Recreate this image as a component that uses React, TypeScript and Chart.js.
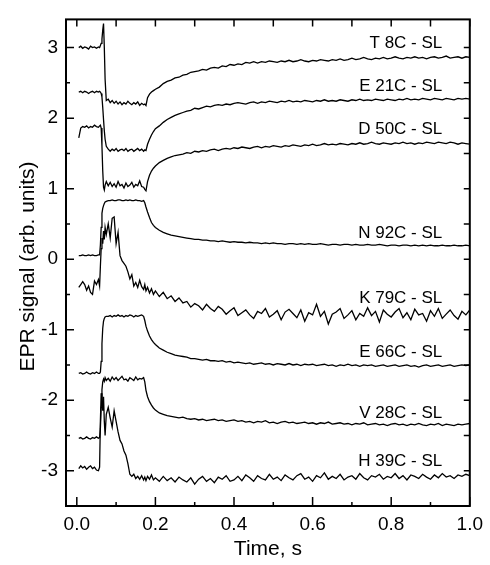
import React, { useEffect, useRef } from "react";
import { Chart, registerables } from "chart.js";
Chart.register(...registerables);

const FONT = "'Liberation Sans', Arial, Helvetica, sans-serif";

const TIME = [
  0.005, 0.01, 0.015, 0.02, 0.025, 0.03, 0.035, 0.04, 0.045, 0.05, 0.055,
  0.058, 0.06, 0.062, 0.064, 0.066, 0.068, 0.07, 0.072, 0.075,
  0.08, 0.085, 0.09, 0.095, 0.1, 0.105, 0.11, 0.115, 0.12, 0.125, 0.13, 0.135, 0.14, 0.145, 0.15, 0.155, 0.16, 0.165, 0.17,
  0.173, 0.176, 0.18, 0.185, 0.19, 0.195, 0.2, 0.21, 0.22, 0.23, 0.24, 0.25,
  0.26, 0.27, 0.28, 0.29, 0.3, 0.31, 0.32, 0.33, 0.34, 0.35,
  0.36, 0.37, 0.38, 0.39, 0.4, 0.41, 0.42, 0.43, 0.44, 0.45,
  0.46, 0.47, 0.48, 0.49, 0.5, 0.51, 0.52, 0.53, 0.54, 0.55,
  0.56, 0.57, 0.58, 0.59, 0.6, 0.61, 0.62, 0.63, 0.64, 0.65,
  0.66, 0.67, 0.68, 0.69, 0.7, 0.71, 0.72, 0.73, 0.74, 0.75,
  0.76, 0.77, 0.78, 0.79, 0.8, 0.81, 0.82, 0.83, 0.84, 0.85,
  0.86, 0.87, 0.88, 0.89, 0.9, 0.91, 0.92, 0.93, 0.94, 0.95,
  0.96, 0.97, 0.98, 0.99, 1.0,
];

const T8C = [
  3.0, 3.02, 2.99, 3.01, 3.0, 2.98, 3.02, 3.0, 3.01, 2.99, 3.01,
  3.0, 3.03, 3.06, 3.12, 3.25, 3.34, 3.0, 2.55, 2.25,
  2.27, 2.22, 2.25, 2.21, 2.24, 2.2, 2.23, 2.19, 2.22, 2.2, 2.24, 2.21, 2.19, 2.22, 2.2, 2.23, 2.18, 2.21, 2.19,
  2.2, 2.18, 2.29, 2.34, 2.37, 2.39, 2.41, 2.44, 2.49, 2.52, 2.54, 2.57,
  2.58, 2.61, 2.62, 2.65, 2.66, 2.67, 2.69, 2.68, 2.71, 2.72,
  2.71, 2.74, 2.73, 2.76, 2.75, 2.77, 2.76, 2.79, 2.78, 2.8,
  2.78, 2.8, 2.79, 2.81, 2.8, 2.79, 2.81, 2.8, 2.82, 2.8,
  2.81, 2.83, 2.81, 2.8, 2.82, 2.81, 2.83, 2.82, 2.81, 2.83,
  2.82, 2.84, 2.82, 2.83, 2.85, 2.83, 2.84, 2.86, 2.84, 2.83,
  2.85, 2.84, 2.86, 2.84, 2.85, 2.87, 2.85, 2.84, 2.86, 2.85,
  2.87, 2.85, 2.86, 2.84, 2.86, 2.87, 2.85, 2.86, 2.88, 2.85,
  2.86, 2.87, 2.85, 2.87, 2.86,
];

const E21C = [
  2.37, 2.38, 2.36, 2.38, 2.37, 2.35, 2.37, 2.38, 2.36, 2.38, 2.37,
  2.38, 2.37, 2.35, 2.3, 2.15, 1.98, 1.82, 1.7, 1.6,
  1.56, 1.53, 1.56, 1.54, 1.57, 1.53, 1.55, 1.56, 1.54, 1.57, 1.53, 1.55, 1.56, 1.53, 1.55, 1.57, 1.54, 1.56, 1.53,
  1.55, 1.54, 1.63, 1.7, 1.76, 1.81, 1.85, 1.89, 1.94, 1.98, 2.01, 2.04,
  2.06, 2.08, 2.1, 2.11, 2.14, 2.13, 2.15, 2.17, 2.16, 2.18,
  2.19, 2.18, 2.2, 2.19, 2.21, 2.22, 2.21, 2.2, 2.22, 2.23,
  2.21, 2.23, 2.22, 2.24, 2.23, 2.22, 2.24, 2.23, 2.25, 2.23,
  2.24, 2.23, 2.25, 2.24, 2.23, 2.25, 2.24, 2.26, 2.24, 2.25,
  2.24, 2.26, 2.25, 2.24, 2.26, 2.25, 2.27, 2.25, 2.26, 2.25,
  2.27, 2.26, 2.25, 2.27, 2.26, 2.25, 2.27, 2.26, 2.28, 2.26,
  2.27, 2.26, 2.28, 2.27, 2.26, 2.28, 2.27, 2.26, 2.28, 2.27,
  2.26, 2.28, 2.27, 2.28, 2.27,
];

const D50C = [
  1.72, 1.86, 1.88, 1.87, 1.89, 1.86, 1.88, 1.87, 1.9, 1.88, 1.87,
  1.89, 1.9, 1.86, 1.6, 1.25, 1.02, 0.98, 1.05, 1.1,
  1.04, 1.09, 1.03, 1.07, 1.02, 1.1, 1.04, 1.06, 1.01, 1.08, 1.03, 1.05, 1.09, 1.02, 1.06, 1.04, 1.11, 1.03, 1.02,
  0.99, 0.97, 1.1, 1.19, 1.25, 1.29, 1.32, 1.37, 1.4, 1.43, 1.45, 1.47,
  1.48, 1.49, 1.51, 1.5, 1.53, 1.52, 1.54, 1.53, 1.55, 1.56,
  1.54, 1.56, 1.57, 1.56, 1.58, 1.57, 1.59, 1.58, 1.57, 1.59,
  1.6, 1.58, 1.6, 1.59, 1.61, 1.6, 1.59, 1.61, 1.6, 1.62,
  1.61, 1.6, 1.62, 1.61, 1.63, 1.61, 1.62, 1.64, 1.62, 1.63,
  1.62, 1.64, 1.63, 1.62, 1.64, 1.63, 1.65, 1.63, 1.64, 1.66,
  1.64, 1.63, 1.65, 1.64, 1.63, 1.65, 1.64, 1.66, 1.64, 1.65,
  1.63, 1.65, 1.64, 1.66, 1.65, 1.64, 1.66, 1.65, 1.64, 1.66,
  1.65, 1.63, 1.65, 1.64, 1.63,
];

const N92C = [
  0.05, 0.05, 0.06, 0.05, 0.05, 0.06, 0.05, 0.06, 0.05, 0.05, 0.06,
  0.06, 0.2, 0.45, 0.65, 0.72, 0.76, 0.79, 0.81, 0.82,
  0.83, 0.83, 0.84, 0.83, 0.83, 0.84, 0.84, 0.83, 0.83, 0.84, 0.83, 0.84, 0.83, 0.83, 0.84, 0.83, 0.83, 0.82, 0.83,
  0.8, 0.74, 0.67, 0.59, 0.52, 0.48, 0.45, 0.41, 0.38, 0.36, 0.34, 0.33,
  0.32, 0.31, 0.3, 0.29, 0.28, 0.28, 0.27, 0.27, 0.26, 0.26,
  0.25, 0.26, 0.25, 0.24, 0.25, 0.24, 0.24, 0.23, 0.24, 0.23,
  0.23, 0.22, 0.23, 0.22, 0.23, 0.22, 0.22, 0.21, 0.22, 0.22,
  0.21, 0.22, 0.21, 0.22, 0.21, 0.21, 0.22, 0.21, 0.2, 0.21,
  0.21, 0.2, 0.21, 0.21, 0.2, 0.21, 0.2, 0.2, 0.21, 0.2,
  0.2, 0.21, 0.2, 0.19, 0.2, 0.2, 0.19, 0.2, 0.2, 0.19,
  0.2, 0.19, 0.2, 0.19, 0.2, 0.19, 0.19, 0.2, 0.19, 0.19,
  0.2, 0.19, 0.19, 0.2, 0.19,
];

const K79C = [
  -0.4, -0.36, -0.32, -0.36, -0.44, -0.38, -0.47, -0.5, -0.31, -0.36, -0.29,
  -0.38, -0.1, 0.15, 0.3, 0.22, 0.4, 0.28, 0.45, 0.35,
  0.5, 0.3, 0.58, 0.6, 0.22, 0.38, 0.05, -0.02, -0.06, -0.1, -0.18, -0.28, -0.22, -0.38, -0.33, -0.4, -0.3, -0.39, -0.43,
  -0.36, -0.45, -0.4, -0.48, -0.42, -0.5, -0.45, -0.53, -0.47, -0.56, -0.52, -0.6,
  -0.55, -0.62, -0.6, -0.68, -0.63, -0.66, -0.72, -0.64, -0.7, -0.74,
  -0.67, -0.71, -0.78, -0.73, -0.69, -0.8, -0.76, -0.72, -0.79, -0.84,
  -0.74, -0.77, -0.7, -0.82, -0.78, -0.73, -0.86, -0.75, -0.71, -0.77,
  -0.83, -0.72, -0.88, -0.76, -0.79, -0.64, -0.81, -0.74, -0.92, -0.78,
  -0.75, -0.7, -0.84, -0.79, -0.73, -0.86, -0.77, -0.81, -0.69, -0.8,
  -0.74, -0.89, -0.72, -0.78, -0.82, -0.75, -0.7, -0.83, -0.76, -0.86,
  -0.71, -0.79, -0.77, -0.88, -0.73, -0.81, -0.7, -0.84, -0.78, -0.72,
  -0.8, -0.85, -0.74, -0.79, -0.72,
];

const E66C = [
  -1.62, -1.61, -1.63, -1.62, -1.6, -1.62, -1.63, -1.61, -1.62, -1.6, -1.62,
  -1.62, -1.6, -1.45, -1.2, -0.98, -0.88, -0.84, -0.82, -0.81,
  -0.81, -0.8, -0.82, -0.8, -0.81, -0.79, -0.81, -0.8, -0.82, -0.8, -0.81, -0.79, -0.8, -0.82, -0.8, -0.81, -0.8, -0.79, -0.81,
  -0.87, -0.95, -1.02, -1.09, -1.14, -1.18, -1.21, -1.26, -1.29, -1.32, -1.34, -1.36,
  -1.37, -1.38, -1.39, -1.41, -1.41, -1.42, -1.43, -1.42, -1.44, -1.44,
  -1.45, -1.44, -1.46, -1.45, -1.47, -1.46, -1.47, -1.48, -1.47, -1.49,
  -1.48, -1.47, -1.49, -1.48, -1.5, -1.48, -1.49, -1.5, -1.48, -1.5,
  -1.49, -1.51, -1.49, -1.5, -1.49, -1.51, -1.5, -1.49, -1.51, -1.5,
  -1.52, -1.5, -1.51, -1.49, -1.51, -1.5, -1.52, -1.5, -1.51, -1.5,
  -1.52, -1.51, -1.5, -1.52, -1.51, -1.5, -1.52, -1.51, -1.5, -1.52,
  -1.51, -1.53, -1.51, -1.5, -1.52, -1.51, -1.5, -1.52, -1.51, -1.5,
  -1.52, -1.51, -1.5, -1.51, -1.5,
];

const V28C = [
  -2.54, -2.53, -2.55, -2.54, -2.52, -2.54, -2.55, -2.53, -2.54, -2.52, -2.54,
  -2.53, -2.4, -2.1, -1.85, -1.74, -1.7, -1.73, -1.68, -1.72,
  -1.69, -1.73, -1.67, -1.71, -1.68, -1.72, -1.69, -1.66, -1.71, -1.7, -1.73, -1.68, -1.7, -1.72, -1.67, -1.71, -1.69, -1.7, -1.68,
  -1.74, -1.86, -1.95, -2.02, -2.07, -2.11, -2.14, -2.18, -2.2, -2.22, -2.23, -2.24,
  -2.25, -2.24, -2.26, -2.27, -2.26, -2.28, -2.27, -2.29, -2.28, -2.27,
  -2.29, -2.28, -2.3, -2.29, -2.28, -2.3, -2.29, -2.31, -2.3, -2.32,
  -2.3, -2.31, -2.29, -2.32, -2.31, -2.33, -2.31, -2.3, -2.32, -2.31,
  -2.33, -2.32, -2.31, -2.33, -2.32, -2.34, -2.32, -2.33, -2.31, -2.34,
  -2.33, -2.32, -2.34, -2.33, -2.35, -2.33, -2.34, -2.32, -2.35, -2.34,
  -2.33, -2.35, -2.34, -2.36, -2.34, -2.33, -2.35, -2.34, -2.36, -2.34,
  -2.35, -2.33, -2.35, -2.36, -2.34, -2.35, -2.33, -2.36, -2.34, -2.35,
  -2.36, -2.34, -2.35, -2.34, -2.33,
];

const H39C = [
  -2.97, -2.93, -2.96, -2.94, -2.98, -2.95, -2.93, -2.97, -2.95, -2.99, -3.0,
  -2.95, -2.3, -1.9, -2.05, -2.15, -1.95, -2.3, -2.5, -2.2,
  -2.1, -2.25, -2.38, -2.15, -2.3, -2.45, -2.57, -2.62, -2.72, -2.78, -2.9, -3.05, -3.08, -3.05, -3.11, -3.08, -3.12, -3.07, -3.13,
  -3.09, -3.14, -3.08, -3.12, -3.06, -3.13, -3.1, -3.15, -3.08, -3.14, -3.1, -3.16,
  -3.09, -3.13, -3.16, -3.1, -3.19, -3.12, -3.08, -3.15, -3.11, -3.17,
  -3.09, -3.12, -3.07, -3.15, -3.13, -3.08, -3.14, -3.06, -3.1, -3.15,
  -3.07, -3.11, -3.13, -3.05, -3.12, -3.09, -3.14, -3.06, -3.1, -3.13,
  -3.07, -3.04, -3.12, -3.09, -3.15, -3.07, -3.1, -3.03, -3.12, -3.08,
  -3.11, -3.05, -3.13, -3.09, -3.07, -3.12, -3.04, -3.1, -3.13, -3.07,
  -3.09, -3.05, -3.12, -3.08, -3.1, -3.04, -3.11, -3.07, -3.13, -3.06,
  -3.08, -3.11, -3.05, -3.09, -3.12, -3.06, -3.1, -3.04, -3.09, -3.07,
  -3.11, -3.06, -3.08, -3.05, -3.07,
];

const SERIES = [T8C, E21C, D50C, N92C, K79C, E66C, V28C, H39C];
const LABELS = ["T 8C - SL", "E 21C - SL", "D 50C - SL", "N 92C - SL", "K 79C - SL", "E 66C - SL", "V 28C - SL", "H 39C - SL"];
const LABEL_Y = [3.06, 2.45, 1.84, 0.37, -0.56, -1.32, -2.19, -2.86];
const LABEL_X = 0.93;

const X_MIN = -0.0275;
const X_MAX = 1.0;
const X_STEP = 0.2;
const Y_MIN = -3.5;
const Y_MAX = 3.4;
const Y_STEP = 1;

const X_TITLE = "Time, s";
const Y_TITLE = "EPR signal (arb. units)";

export default function App() {
  const ref = useRef<HTMLCanvasElement>(null);

  useEffect(() => {
    document.body.style.margin = "0";
    const canvas = ref.current;
    if (!canvas) return;

    const framePlugin = {
      id: "frameTicksLabels",
      afterDatasetsDraw(chart: any) {
        const { ctx, chartArea: a, scales } = chart;
        const xs = scales.x;
        const ys = scales.y;
        const xMaj = xs.ticks.map((t: any) => t.value);
        const yMaj = ys.ticks.map((t: any) => t.value);
        const xMin: number[] = [];
        for (let i = 0; i < xMaj.length - 1; i++) xMin.push((xMaj[i] + xMaj[i + 1]) / 2);
        const yMin: number[] = [];
        for (let i = 0; i < yMaj.length - 1; i++) yMin.push((yMaj[i] + yMaj[i + 1]) / 2);

        ctx.save();
        ctx.strokeStyle = "#000";
        ctx.lineWidth = 1.5;
        ctx.beginPath();
        xMaj.forEach((v: number) => { const p = xs.getPixelForValue(v); ctx.moveTo(p, a.bottom); ctx.lineTo(p, a.bottom - 9); });
        xMin.forEach((v: number) => { const p = xs.getPixelForValue(v); ctx.moveTo(p, a.bottom); ctx.lineTo(p, a.bottom - 4); });
        [...xMaj, ...xMin].forEach((v: number) => { const p = xs.getPixelForValue(v); ctx.moveTo(p, a.top); ctx.lineTo(p, a.top + 7); });
        yMaj.forEach((v: number) => { const p = ys.getPixelForValue(v); ctx.moveTo(a.left, p); ctx.lineTo(a.left + 8, p); });
        yMin.forEach((v: number) => { const p = ys.getPixelForValue(v); ctx.moveTo(a.left, p); ctx.lineTo(a.left + 4, p); });
        [...yMaj, ...yMin].forEach((v: number) => { const p = ys.getPixelForValue(v); ctx.moveTo(a.right, p); ctx.lineTo(a.right - 6, p); });
        ctx.stroke();

        ctx.lineWidth = 2;
        ctx.strokeRect(a.left, a.top, a.right - a.left, a.bottom - a.top);

        ctx.fillStyle = "#000";
        ctx.font = `17px ${FONT}`;
        ctx.textAlign = "right";
        ctx.textBaseline = "middle";
        LABELS.forEach((l, i) => {
          ctx.fillText(l, xs.getPixelForValue(LABEL_X), ys.getPixelForValue(LABEL_Y[i]));
        });

        ctx.translate(28.5, 266.5);
        ctx.rotate(-Math.PI / 2);
        ctx.textAlign = "center";
        ctx.font = `21px ${FONT}`;
        ctx.fillText(Y_TITLE, 0, 0);
        ctx.restore();
      },
    };

    const chart = new Chart(canvas, {
      type: "line",
      data: {
        datasets: SERIES.map((s, k) => ({
          label: LABELS[k],
          data: TIME.map((t, i) => ({ x: t, y: s[i] })),
          borderColor: "#000",
          borderWidth: 1.3,
          pointRadius: 0,
          tension: 0,
          fill: false,
        })),
      },
      options: {
        responsive: false,
        animation: false,
        layout: { padding: { left: 0, right: 13, top: 10, bottom: 0 } },
        plugins: { legend: { display: false }, tooltip: { enabled: false } },
        scales: {
          x: {
            type: "linear",
            min: X_MIN,
            max: X_MAX,
            grid: { display: false, drawTicks: false },
            border: { display: false },
            ticks: {
              stepSize: X_STEP,
              includeBounds: false,
              padding: 7,
              color: "#000",
              maxRotation: 0,
              autoSkip: false,
              font: { family: FONT, size: 19 },
              callback: (v: any) => Number(v).toFixed(1),
            },
            title: {
              display: true,
              text: X_TITLE,
              color: "#000",
              font: { family: FONT, size: 21 },
              padding: { top: 0, bottom: 3 },
            },
            afterFit: (s: any) => { s.height = 59; },
          },
          y: {
            type: "linear",
            min: Y_MIN,
            max: Y_MAX,
            grid: { display: false, drawTicks: false },
            border: { display: false },
            ticks: {
              stepSize: Y_STEP,
              includeBounds: false,
              padding: 8,
              color: "#000",
              font: { family: FONT, size: 19 },
              callback: (v: any) => Number(v).toFixed(0),
            },
            title: { display: false },
            afterFit: (s: any) => { s.width = 66; },
          },
        },
      },
      plugins: [framePlugin],
    });

    return () => chart.destroy();
  }, []);

  return <canvas ref={ref} width={490} height={565} style={{ display: "block" }} />;
}
